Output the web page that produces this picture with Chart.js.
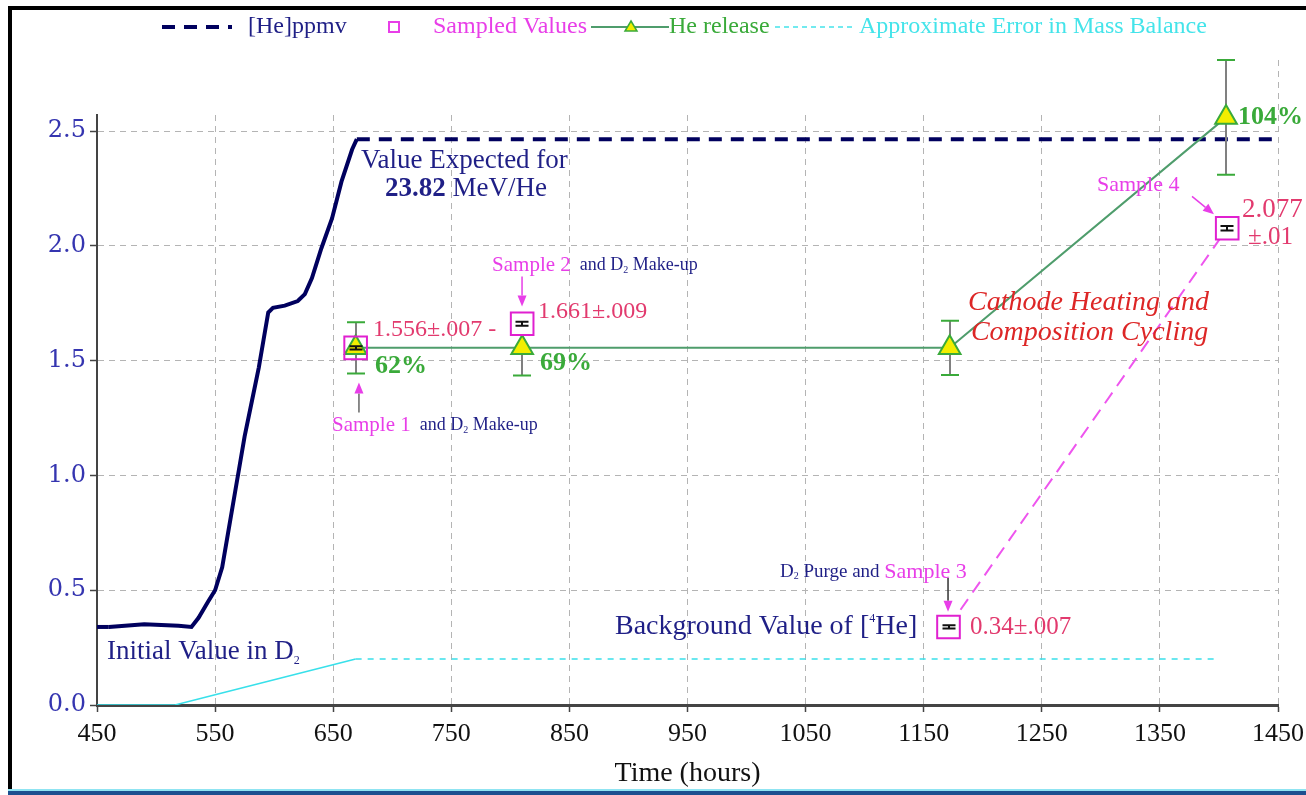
<!DOCTYPE html>
<html>
<head>
<meta charset="utf-8">
<script src="https://cdn.jsdelivr.net/npm/chart.js@4.4.1/dist/chart.umd.min.js"></script>
<style>
  html, body { margin: 0; padding: 0; background: #fff; }
  #wrap { position: relative; width: 1306px; height: 795px; overflow: hidden; background: #fff; }
  #wrap canvas { position: absolute; left: 0; top: 0; }
  .edge { position: absolute; }
  #edgeL { left: 8px; top: 6px; width: 4px; height: 785px; background: #000; }
  #edgeT { left: 8px; top: 6px; width: 1298px; height: 4px; background: #000; }
  #edgeB1 { left: 8px; top: 789px; width: 1298px; height: 2px; background: #8fe4f2; }
  #edgeB2 { left: 8px; top: 791px; width: 1298px; height: 4px; background: #1d4f8f; }
</style>
</head>
<body>
<div id="wrap">
  <canvas id="chart" width="1306" height="795"></canvas>
  <div class="edge" id="edgeL"></div>
  <div class="edge" id="edgeT"></div>
  <div class="edge" id="edgeB1"></div>
  <div class="edge" id="edgeB2"></div>
</div>
<script>
// [He] concentration trace (ppmv) vs time (hours)
const heHours = [450, 460, 490, 519, 530, 536, 544, 550, 556, 561, 567, 571, 575, 581, 587, 591, 595, 599, 609, 620, 626, 632, 640, 649, 657, 666, 670, 1450];
const heValues = [0.34, 0.34, 0.352, 0.345, 0.34, 0.38, 0.45, 0.50, 0.60, 0.75, 0.93, 1.05, 1.17, 1.32, 1.47, 1.59, 1.71, 1.73, 1.74, 1.76, 1.79, 1.86, 1.99, 2.12, 2.28, 2.42, 2.465, 2.465];

// approximate error in mass balance
const errHours = [450, 516, 550, 669, 1400];
const errValues = [0, 0, 0.045, 0.2, 0.2];

// sampled values with their errors
const sampleHours = [669, 810, 1171, 1407];
const sampleValues = [1.556, 1.661, 0.34, 2.077];
const sampleErrors = [0.007, 0.009, 0.007, 0.01];

// He release points
const releaseHours = [669, 810, 1172, 1406];
const releaseValues = [1.556, 1.556, 1.556, 2.56];
const releaseErrors = [0.112, 0.12, 0.118, 0.25];

// dashed link sample 3 -> sample 4
const linkHours = [1171, 1407];
const linkValues = [0.34, 2.077];

const xTicks = [450, 550, 650, 750, 850, 950, 1050, 1150, 1250, 1350, 1450];
const yTicks = [0, 0.5, 1.0, 1.5, 2.0, 2.5];

const SERIF = '"Liberation Serif", "Times New Roman", serif';
const NAVY = '#1f1f86';
const MAG = '#e83ee8';
const RED = '#e23a6e';
const GREEN = '#3aaa3a';
const CRED = '#dd2626';

function pts(xs, ys) {
  return xs.map((x, i) => ({ x: x, y: ys[i] }));
}

function run(text, color, size, style, dy) {
  return { text: text, color: color, size: size, style: style || '', dy: dy || 0 };
}

const notes = [
  { h: 673.5, v: 2.369, runs: [run('Value Expected for', NAVY, 27)] },
  { h: 693.9, v: 2.247, runs: [run('23.82', NAVY, 27, 'bold'), run(' MeV/He', NAVY, 27)] },
  { h: 458.5, v: 0.231, runs: [run('Initial Value in D', NAVY, 27), run('2', NAVY, 12, '', 9)] },
  { h: 784.5, v: 1.915, runs: [run('Sample 2', MAG, 21), run('  and D', NAVY, 18), run('2', NAVY, 10, '', 5), run(' Make-up', NAVY, 18)] },
  { h: 683.7, v: 1.636, runs: [run('1.556\u00b1.007 -', RED, 24)] },
  { h: 823.4, v: 1.715, runs: [run('1.661\u00b1.009', RED, 24)] },
  { h: 685.4, v: 1.475, runs: [run('62%', GREEN, 26, 'bold')] },
  { h: 825.1, v: 1.488, runs: [run('69%', GREEN, 26, 'bold')] },
  { h: 649, v: 1.217, runs: [run('Sample 1', MAG, 21), run('  and D', NAVY, 18), run('2', NAVY, 10, '', 5), run(' Make-up', NAVY, 18)] },
  { h: 1187.5, v: 1.754, runs: [run('Cathode Heating and', CRED, 28, 'italic')] },
  { h: 1190, v: 1.623, runs: [run('Composition Cycling', CRED, 28, 'italic')] },
  { h: 1416.1, v: 2.561, runs: [run('104%', GREEN, 26, 'bold')] },
  { h: 1296.7, v: 2.264, runs: [run('Sample 4', MAG, 22)] },
  { h: 1419.5, v: 2.155, runs: [run('2.077', RED, 27)] },
  { h: 1424.6, v: 2.038, runs: [run('\u00b1.01', RED, 25)] },
  { h: 1028.3, v: 0.58, runs: [run('D', NAVY, 19), run('2', NAVY, 10, '', 5), run(' Purge and ', NAVY, 19), run('Sample 3', MAG, 22)] },
  { h: 888.6, v: 0.34, runs: [run('Background Value of [', NAVY, 28), run('4', NAVY, 12, '', -8), run('He]', NAVY, 28)] },
  { h: 1189.2, v: 0.34, runs: [run('0.34\u00b1.007', RED, 25)] }
];

const arrows = [
  { h0: 671.8, v0: 1.274, h1: 671.8, v1: 1.405, shaft: '#666' },
  { h0: 809.9, v0: 1.867, h1: 809.9, v1: 1.736, shaft: MAG },
  { h0: 1170.6, v0: 0.554, h1: 1170.6, v1: 0.406, shaft: '#333' },
  { h0: 1377.2, v0: 2.216, h1: 1395.8, v1: 2.138, shaft: MAG }
];

function drawBars(chart, xs, ys, errs, lineColor, capColor, capW) {
  const c = chart.ctx;
  const sx = chart.scales.x;
  const sy = chart.scales.y;
  c.save();
  c.lineWidth = 2;
  xs.forEach((x, i) => {
    const px = Math.round(sx.getPixelForValue(x));
    const top = sy.getPixelForValue(ys[i] + errs[i]);
    const bot = sy.getPixelForValue(ys[i] - errs[i]);
    c.strokeStyle = lineColor;
    c.beginPath();
    c.moveTo(px, top);
    c.lineTo(px, bot);
    c.stroke();
    c.strokeStyle = capColor;
    c.beginPath();
    c.moveTo(px - capW / 2, top);
    c.lineTo(px + capW / 2, top);
    c.moveTo(px - capW / 2, bot);
    c.lineTo(px + capW / 2, bot);
    c.stroke();
  });
  c.restore();
}

function drawArrow(c, x0, y0, x1, y1, shaft) {
  const ang = Math.atan2(y1 - y0, x1 - x0);
  const len = 11;
  c.save();
  c.strokeStyle = shaft;
  c.lineWidth = 1.5;
  c.beginPath();
  c.moveTo(x0, y0);
  c.lineTo(x1 - Math.cos(ang) * len, y1 - Math.sin(ang) * len);
  c.stroke();
  c.fillStyle = MAG;
  c.beginPath();
  c.moveTo(x1, y1);
  c.lineTo(x1 - Math.cos(ang) * len - Math.sin(ang) * 4.5, y1 - Math.sin(ang) * len + Math.cos(ang) * 4.5);
  c.lineTo(x1 - Math.cos(ang) * len + Math.sin(ang) * 4.5, y1 - Math.sin(ang) * len - Math.cos(ang) * 4.5);
  c.closePath();
  c.fill();
  c.restore();
}

function drawRuns(c, x, y, runs) {
  let cx = x;
  c.textBaseline = 'middle';
  c.textAlign = 'left';
  runs.forEach(r => {
    c.font = r.style + ' ' + r.size + 'px ' + SERIF;
    c.fillStyle = r.color;
    c.fillText(r.text, cx, y + r.dy);
    cx += c.measureText(r.text).width;
  });
}

const chartDecor = {
  id: 'chartDecor',
  beforeDatasetsDraw(chart) {
    // legend box covers the top of the plot
    const c = chart.ctx;
    c.save();
    c.fillStyle = '#fff';
    c.fillRect(0, 0, 1220, 114);
    c.restore();
  },
  beforeDatasetDraw(chart, args) {
    if (args.index === 3) {
      drawBars(chart, releaseHours, releaseValues, releaseErrors, '#808080', GREEN, 18);
    }
  },
  afterDatasetDraw(chart, args) {
    if (args.index === 4) {
      drawBars(chart, sampleHours, sampleValues, sampleErrors, '#111', '#111', 13);
    }
  },
  afterDraw(chart) {
    const c = chart.ctx;
    const sx = chart.scales.x;
    const sy = chart.scales.y;

    arrows.forEach(a => {
      drawArrow(c, sx.getPixelForValue(a.h0), sy.getPixelForValue(a.v0),
        sx.getPixelForValue(a.h1), sy.getPixelForValue(a.v1), a.shaft);
    });

    notes.forEach(n => {
      drawRuns(c, sx.getPixelForValue(n.h), sy.getPixelForValue(n.v), n.runs);
    });

    // legend
    const ly = 27;
    c.save();
    c.lineWidth = 4;
    c.strokeStyle = '#00005e';
    c.setLineDash([13, 9]);
    c.beginPath();
    c.moveTo(162, ly);
    c.lineTo(232, ly);
    c.stroke();
    c.setLineDash([]);
    c.lineWidth = 2;
    c.strokeStyle = MAG;
    c.strokeRect(389, ly - 5, 10, 10);
    c.strokeStyle = '#4f9d6c';
    c.beginPath();
    c.moveTo(591, ly);
    c.lineTo(669, ly);
    c.stroke();
    c.fillStyle = '#f0ee00';
    c.strokeStyle = GREEN;
    c.lineWidth = 1.5;
    c.beginPath();
    c.moveTo(631, ly - 6);
    c.lineTo(637, ly + 4);
    c.lineTo(625, ly + 4);
    c.closePath();
    c.fill();
    c.stroke();
    c.strokeStyle = '#44e4ea';
    c.lineWidth = 1.5;
    c.setLineDash([5, 4]);
    c.beginPath();
    c.moveTo(775, ly);
    c.lineTo(855, ly);
    c.stroke();
    c.setLineDash([]);
    c.restore();
    drawRuns(c, 248, ly, [run('[He]ppmv', NAVY, 24)]);
    drawRuns(c, 433, ly, [run('Sampled Values', MAG, 24)]);
    drawRuns(c, 669, ly, [run('He release', GREEN, 24)]);
    drawRuns(c, 859, ly, [run('Approximate Error in Mass Balance', '#44e4ea', 24)]);
  }
};

const ctx = document.getElementById('chart');
const heChart = new Chart(ctx, {
  type: 'scatter',
  data: {
    datasets: [
      {
        label: 'Approximate Error in Mass Balance',
        data: pts(errHours, errValues),
        showLine: true,
        borderColor: '#38e0ea',
        borderWidth: 1.5,
        pointRadius: 0,
        segment: {
          borderDash: c => c.p0DataIndex >= 3 ? [6, 6] : undefined
        },
        order: 6
      },
      {
        label: '[He]ppmv',
        data: pts(heHours, heValues),
        showLine: true,
        borderColor: '#00005e',
        borderWidth: 4,
        pointRadius: 0,
        segment: {
          borderDash: c => (c.p0DataIndex === 0 || c.p0DataIndex >= heHours.length - 2) ? [13, 9] : undefined
        },
        order: 5
      },
      {
        label: 'link',
        data: pts(linkHours, linkValues),
        showLine: true,
        borderColor: '#ee55ee',
        borderWidth: 2,
        borderDash: [13, 8],
        pointRadius: 0,
        order: 4
      },
      {
        label: 'He release',
        data: pts(releaseHours, releaseValues),
        showLine: true,
        borderColor: '#4f9d6c',
        borderWidth: 2,
        pointStyle: 'triangle',
        pointRadius: 12.5,
        pointBackgroundColor: '#f2ee00',
        pointBorderColor: GREEN,
        pointBorderWidth: 2,
        order: 3
      },
      {
        label: 'Sampled Values',
        data: pts(sampleHours, sampleValues),
        showLine: false,
        pointStyle: 'rect',
        pointRadius: 16,
        pointBorderColor: '#e020d0',
        pointBorderWidth: 2,
        pointBackgroundColor: ['rgba(255,255,255,0)', '#fff', '#fff', '#fff'],
        order: 2
      }
    ]
  },
  options: {
    responsive: false,
    animation: false,
    layout: { padding: { top: 60, right: 28, left: 0, bottom: 0 } },
    plugins: {
      legend: { display: false },
      tooltip: { enabled: false }
    },
    scales: {
      x: {
        type: 'linear',
        min: 450,
        max: 1450,
        afterBuildTicks: s => { s.ticks = xTicks.map(v => ({ value: v })); },
        afterFit: s => {
          s.height = 90;
          s.paddingLeft = 0;
          s.paddingRight = 0;
        },
        ticks: {
          color: '#111',
          font: { family: SERIF, size: 26 },
          padding: 7,
          maxRotation: 0,
          callback: v => String(v)
        },
        grid: { color: '#b4b4b4', tickLength: 7, tickColor: '#444', tickWidth: 1.5 },
        border: { color: '#444', width: 3, dash: [6, 5] },
        title: {
          display: true,
          text: 'Time (hours)',
          color: '#111',
          font: { family: SERIF, size: 28 },
          padding: { top: 0, bottom: 5 }
        }
      },
      y: {
        min: 0,
        max: 2.81,
        afterBuildTicks: s => { s.ticks = yTicks.map(v => ({ value: v })); },
        afterFit: s => {
          s.width = 97;
          s.paddingTop = 0;
          s.paddingBottom = 0;
        },
        ticks: {
          color: '#3535b0',
          font: { family: '"DejaVu Serif", serif', size: 24 },
          padding: 4,
          callback: v => v.toFixed(1)
        },
        grid: { color: '#b4b4b4', tickLength: 7, tickColor: '#444', tickWidth: 1.5 },
        border: { color: '#444', width: 2, dash: [6, 5] }
      }
    }
  },
  plugins: [chartDecor]
});
</script>
</body>
</html>
